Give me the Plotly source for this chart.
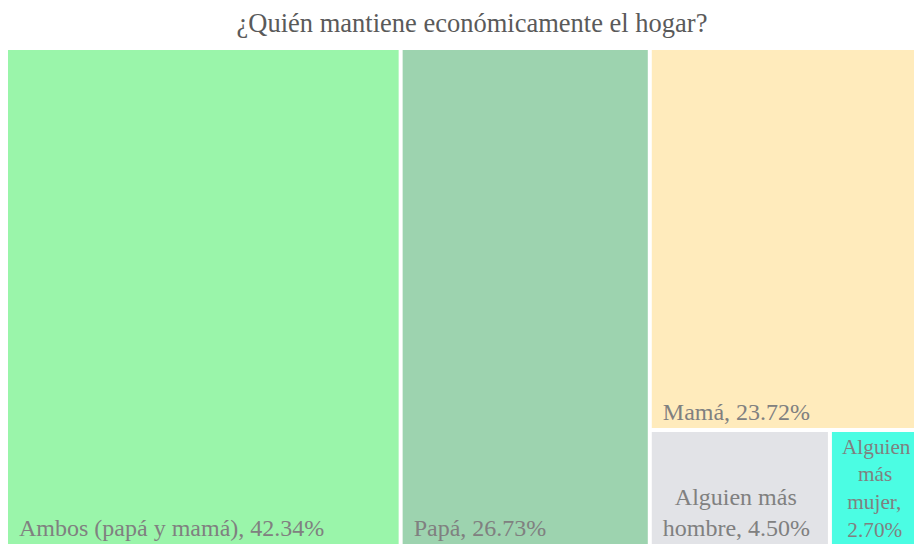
import plotly.graph_objects as go

labels = ["Ambos (papá y mamá)", "Papá", "Mamá", "Alguien más<br>hombre", "Alguien<br>más<br>mujer"]
values = [42.34, 26.73, 23.72, 4.50, 2.70]
colors = ["#9AF5AA", "#9DD3AF", "#FFEBBC", "#E2E3E7", "#4BFDE3"]

SERIF = "Times New Roman, Liberation Serif, serif"
PAD = "\u00a0\u200a"
NBSP = "\u00a0"
# approximate Times advance widths (em) used to centre wrapped lines
CW = {"A": .722, "l": .278, "g": .5, "u": .5, "i": .278, "e": .444, "n": .5, "m": .778,
      "á": .444, "s": .389, "h": .5, "o": .5, "b": .5, "r": .333, ",": .25, ".": .25,
      "%": .833, "j": .278, " ": .25}


def width(s):
    return sum(CW.get(c, .5) for c in s)


text = []
for l, v in zip(labels, values):
    t = f"{l}, {v:.2f}%"
    if l.startswith("Alguien<br>"):
        t = t.replace(", ", ",<br>")
    lines = t.split("<br>")
    wmax = max(width(s) for s in lines)
    lines = [PAD + NBSP * round((wmax - width(s)) / 2 / .25) + s for s in lines]
    text.append("<br>".join(lines))

fig = go.Figure(go.Treemap(
    labels=labels,
    parents=[""] * len(labels),
    values=values,
    text=text,
    textinfo="text",
    textposition="bottom left",
    marker=dict(colors=colors, line=dict(color="white", width=0),
                pad=dict(t=0, l=0, r=0, b=0)),
    textfont=dict(family=SERIF, size=24, color="#808080"),
    tiling=dict(pad=4),
    pathbar=dict(visible=False),
    root=dict(color="white"),
    sort=True,
))
fig.update_layout(
    width=928, height=536,
    margin=dict(l=0, r=0, t=42, b=0),
    title=dict(text="¿Quién mantiene económicamente el hogar?", x=464 / 928, xanchor="center",
               y=1 - 14.7 / 536, yref="container", yanchor="middle",
               font=dict(family=SERIF, size=26.5, color="#5a5a5a")),
    paper_bgcolor="white",
)
fig.write_html("out.html")
